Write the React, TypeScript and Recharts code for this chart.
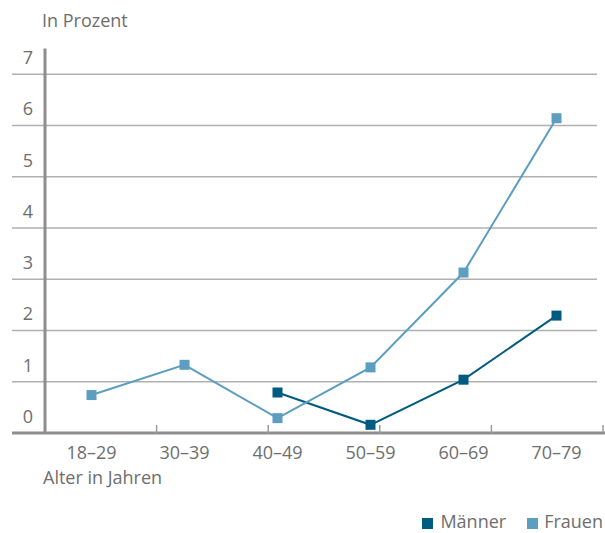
import React from 'react';
import { LineChart, Line, XAxis, YAxis, CartesianGrid, Legend, ReferenceLine, Label } from 'recharts';

const categories = ['18–29', '30–39', '40–49', '50–59', '60–69', '70–79'];
const maenner: (number | null)[] = [null, null, 0.79, 0.16, 1.04, 2.29];
const frauen: number[] = [0.74, 1.33, 0.29, 1.28, 3.13, 6.14];
const seriesNames = ['Männer', 'Frauen'];
const yTicks = [0, 1, 2, 3, 4, 5, 6, 7];
const boundaryTicks = [1, 2, 3, 4, 5];

const data = categories.map((c, i) => ({ cat: c, Männer: maenner[i], Frauen: frauen[i] }));

const FONT = '"Open Sans", sans-serif';
const TEXT = '#6e6e6e';
const AXIS = '#8e8e8e';
const GRID = '#b0b0b0';
const C_M = '#005b80';
const C_F = '#5c9ec0';

const gridLine = (p: any) => {
  const key = p.key ?? `g-${p.index}`;
  if (typeof p.y === 'number' && p.y1 < p.y + 1) return <g key={key} />;
  const isBase = typeof p.y === 'number' && typeof p.height === 'number' ? Math.abs(p.y1 - (p.y + p.height)) < 1 : p.index === 0;
  return (
    <line
      key={key}
      x1={p.x1 - 33}
      x2={isBase ? p.x2 + 2 : p.x2 - 6}
      y1={p.y1}
      y2={p.y2}
      stroke={isBase ? AXIS : GRID}
      strokeWidth={isBase ? 3 : 1.5}
    />
  );
};

const YTick = (p: any) => (
  <text x={p.x - 12} y={p.y - 10} textAnchor="end" fill={TEXT} fontFamily={FONT} fontSize={18}>
    {p.payload.value}
  </text>
);

const XTick = (p: any) => (
  <text x={p.x} y={p.y + 25.5} textAnchor="middle" fill={TEXT} fontFamily={FONT} fontSize={18}>
    {p.payload.value}
  </text>
);

const squareDot = (color: string) => (p: any) => {
  if (p.value == null || p.cx == null || p.cy == null) return <g key={`e-${p.index}`} />;
  return <rect key={`d-${p.index}`} x={p.cx - 5} y={p.cy - 5} width={10} height={10} fill={color} />;
};

const LegendContent = (props: any) => {
  const payload = [...(props.payload || [])].sort(
    (a: any, b: any) => seriesNames.indexOf(a.value) - seriesNames.indexOf(b.value)
  );
  return (
    <div
      style={{
        display: 'flex',
        justifyContent: 'flex-end',
        alignItems: 'center',
        fontFamily: FONT,
        fontSize: 18,
        lineHeight: '18px',
        color: TEXT,
      }}
    >
      {payload.map((e: any, i: number) => (
        <span key={i} style={{ display: 'inline-flex', alignItems: 'center', marginLeft: i === 0 ? 0 : 21 }}>
          <span
            style={{
              display: 'inline-block',
              width: 11,
              height: 11,
              background: e.color,
              marginRight: i === 0 ? 7 : 6,
              position: 'relative',
              top: 2,
            }}
          />
          {e.value}
        </span>
      ))}
    </div>
  );
};

export default function App() {
  return (
    <div style={{ position: 'absolute', left: 0, top: 0, background: '#fff' }}>
      <LineChart
        width={605}
        height={533}
        data={data}
        margin={{ top: 48.5, right: 2, left: 0, bottom: 99 }}
        style={{ fontFamily: FONT }}
      >
        <CartesianGrid vertical={false} horizontal={gridLine} />
        <XAxis
          dataKey="cat"
          xAxisId="main"
          scale="band"
          height={1}
          axisLine={false}
          tickLine={false}
          tickSize={0}
          tickMargin={0}
          tick={<XTick />}
          interval={0}
        >
          <Label
            content={(lp: any) => (
              <text x={lp.viewBox.x - 2} y={432 + 52} fill={TEXT} fontFamily={FONT} fontSize={18}>
                Alter in Jahren
              </text>
            )}
          />
        </XAxis>
        <XAxis
          xAxisId="b"
          type="number"
          domain={[0, 6]}
          allowDataOverflow
          ticks={boundaryTicks}
          height={1}
          mirror
          axisLine={false}
          tickLine={{ stroke: '#9a9a9a', strokeWidth: 1.5 }}
          tickSize={8}
          tickFormatter={() => ''}
        />
        <YAxis
          domain={[0, 7.5]}
          ticks={yTicks}
          width={45}
          axisLine={{ stroke: AXIS, strokeWidth: 3 }}
          tickLine={false}
          tickSize={0}
          tickMargin={0}
          tick={<YTick />}
          allowDataOverflow
        >
          <Label
            content={(lp: any) => (
              <text x={lp.viewBox.x + 42} y={lp.viewBox.y - 21.5} fill={TEXT} fontFamily={FONT} fontSize={18}>
                In Prozent
              </text>
            )}
          />
        </YAxis>
        <ReferenceLine
          xAxisId="b"
          segment={[{ x: 5.935, y: 0 }, { x: 5.935, y: 7 }]}
          stroke={GRID}
          strokeWidth={1.5}
        />
        <Legend
          layout="horizontal"
          verticalAlign="middle"
          align="center"
          content={<LegendContent />}
          wrapperStyle={{ left: 0, top: 512, width: 603, height: 18 }}
        />
        <Line
          xAxisId="main"
          type="linear"
          dataKey="Männer"
          name="Männer"
          stroke={C_M}
          strokeWidth={2}
          dot={squareDot(C_M)}
          activeDot={false}
          isAnimationActive={false}
        />
        <Line
          xAxisId="main"
          type="linear"
          dataKey="Frauen"
          name="Frauen"
          stroke={C_F}
          strokeWidth={2}
          dot={squareDot(C_F)}
          activeDot={false}
          isAnimationActive={false}
        />
      </LineChart>
    </div>
  );
}
